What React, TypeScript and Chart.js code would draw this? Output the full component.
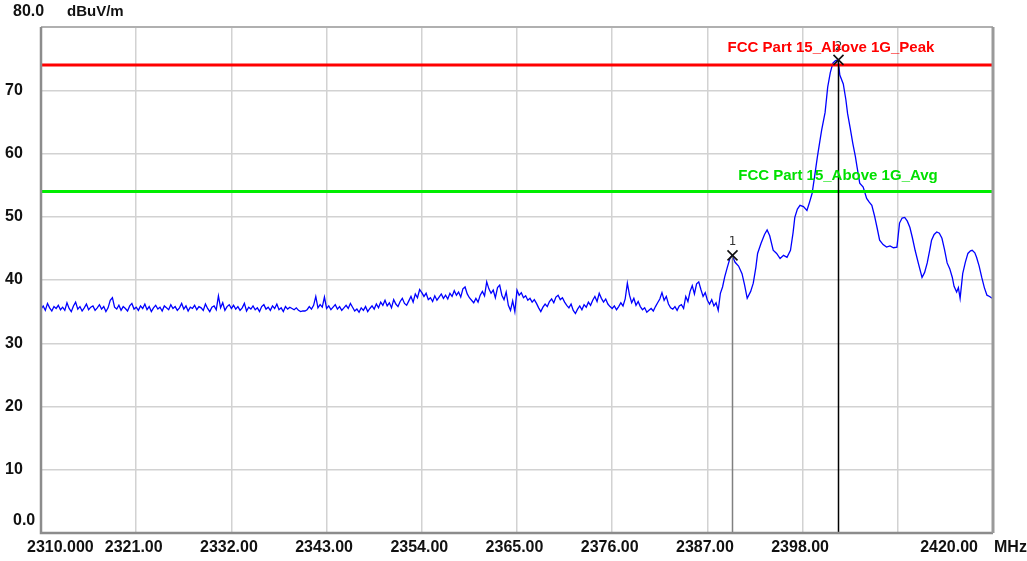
import React, { useEffect, useRef } from "react";
import { Chart, registerables } from "chart.js";
Chart.register(...registerables);

// Sweep grid for the noisy part of the trace
const sweepStart = 2310;
const sweepStep = 0.25;
const noiseLevels = [
  // 2310.00 - 2320.75
  35.4, 35.9, 35.2, 36.3, 35.6, 35.1, 35.8, 35.5, 36.0, 35.3,
  35.7, 35.2, 36.4, 35.5, 35.0, 35.9, 36.5, 35.4, 35.8, 35.1,
  35.6, 36.2, 35.3, 35.7, 35.9, 35.2, 35.6, 36.1, 35.4, 35.8,
  35.0, 35.6, 36.8, 37.2, 35.7, 35.4, 36.0, 35.2, 35.8, 35.5,
  35.1, 35.9, 36.3, 35.4,
  // 2321.00 - 2331.75
  35.7, 35.2, 35.9, 35.5, 36.2, 35.3, 35.8, 35.0, 35.6, 36.0,
  35.4, 35.7, 35.1, 35.9, 35.6, 35.3, 36.1, 35.5, 35.8, 35.2,
  35.6, 36.3, 35.4, 35.9, 35.1, 35.7, 35.5, 36.0, 35.3, 35.8,
  35.6, 35.2, 36.2, 35.5, 35.0, 35.7, 35.9, 35.3, 37.5, 35.6,
  36.4, 35.2, 35.8, 36.1,
  // 2332.00 - 2342.75
  35.5, 36.0, 35.4, 35.8, 35.2, 35.6, 36.3, 35.1, 35.7, 35.4,
  35.9, 35.3, 35.6, 35.0, 35.8, 36.1, 35.4, 35.7, 35.2, 35.9,
  35.5, 36.2, 35.3, 35.6, 35.0, 35.8, 35.4, 35.7, 35.5, 35.3,
  35.6, 35.2, 35.0, 35.1, 35.1, 35.3, 35.8, 35.4, 36.0, 37.4,
  35.6, 36.1, 35.7, 37.3,
  // 2343.00 - 2353.75
  35.5, 35.9, 35.3, 35.7, 36.1, 35.4, 35.8, 35.2, 35.6, 36.0,
  35.5, 36.3, 35.7, 35.1, 35.4, 34.9, 35.6, 35.2, 35.8, 35.0,
  35.5, 35.9, 35.4, 36.2, 35.6, 36.5, 36.0, 36.8, 35.9, 36.4,
  35.6, 36.9, 36.2, 35.8, 36.6, 37.1, 36.3, 36.0, 36.7, 37.4,
  36.5, 37.8, 37.2, 38.5,
  // 2354.00 - 2364.75
  38.0, 37.4, 37.9, 36.9, 37.2, 36.6, 37.5, 36.8, 37.3, 37.8,
  37.1, 37.6, 37.0, 37.9, 37.4, 38.3, 37.6, 38.1, 37.3, 38.6,
  38.9, 37.8, 37.2, 36.8, 36.4, 37.1, 36.5, 37.6, 38.2, 37.5,
  39.7, 38.6, 37.9, 38.4, 37.2, 38.8, 39.2, 37.6, 36.9, 38.1,
  36.0, 35.2, 36.7, 35.0,
  // 2365.00 - 2375.75
  38.4, 37.6, 38.0, 37.2, 37.5, 36.8, 37.1, 36.5, 36.9, 36.3,
  35.6, 35.0, 35.7, 36.2, 35.8, 36.6, 37.0, 36.4, 37.3, 37.6,
  36.9, 37.2, 36.5, 36.0, 35.6, 36.2, 35.2, 34.7, 35.4, 35.9,
  35.3, 36.1, 35.7, 36.5, 36.0, 36.8, 37.4, 36.6, 37.9, 37.1,
  36.5, 37.0, 36.2, 35.8,
  // 2376.00 - 2382.75
  35.5, 35.9, 35.3, 35.8, 36.4, 35.9, 37.0, 39.5, 37.6, 36.4,
  37.1, 36.0, 36.6, 35.8, 35.3, 35.6, 34.9, 35.2, 35.5, 35.1,
  35.8, 36.4, 37.0, 38.0, 36.8, 37.4, 36.2, 35.6,
  // 2383.00 - 2388.50
  35.4, 35.8, 35.2, 35.9, 36.1, 35.5, 37.4, 36.6, 38.2, 39.1,
  37.8, 39.4, 39.7, 38.5, 37.4, 38.0, 36.8, 36.2, 36.9, 35.9,
  36.4, 35.2, 37.9,
];

// Signal region (read point by point)
const signalFreqs = [
  2388.75, 2389.0, 2389.3, 2389.6, 2389.85, 2390.2, 2390.6, 2391.0, 2391.3, 2391.6,
  2392.0, 2392.3, 2392.6, 2392.8, 2393.2, 2393.6, 2393.9, 2394.2, 2394.6, 2395.0,
  2395.4, 2395.8, 2396.2, 2396.6, 2396.9, 2397.1, 2397.4, 2397.7, 2398.1, 2398.5,
  2398.8, 2399.1, 2399.4, 2399.7, 2400.0, 2400.2, 2400.6, 2400.9, 2401.2, 2401.5,
  2401.8, 2402.1, 2402.3, 2402.7, 2403.0, 2403.2, 2403.5, 2403.8, 2404.1, 2404.3,
  2404.6, 2405.0, 2405.4, 2405.7, 2406.0, 2406.3, 2406.6, 2406.9, 2407.3, 2407.7,
  2408.1, 2408.5, 2408.9, 2409.2, 2409.5, 2409.8, 2410.1, 2410.4, 2410.7, 2411.0,
  2411.4, 2411.8, 2412.1, 2412.4, 2412.7, 2412.9, 2413.2, 2413.5, 2413.8, 2414.1,
  2414.4, 2414.7, 2415.0, 2415.3, 2415.5, 2415.8, 2416.0, 2416.2, 2416.5, 2416.8,
  2417.1, 2417.4, 2417.6, 2417.9, 2418.1, 2418.4, 2418.7, 2419.0, 2419.3, 2419.6,
  2419.9,
];
const signalLevels = [
  38.9, 40.5, 42.0, 43.4, 43.9, 42.8, 42.2, 41.0, 39.2, 37.1,
  38.2, 39.5, 42.0, 44.2, 45.8, 47.2, 47.9, 47.0, 44.7, 44.2,
  43.4, 43.9, 43.6, 44.7, 47.5, 49.9, 51.2, 51.8, 51.6, 51.0,
  52.3, 53.7, 56.5, 59.4, 62.0, 63.7, 66.5, 70.5, 72.8, 74.3,
  74.7, 74.8, 72.4, 71.0, 68.5, 66.3, 64.0, 61.6, 59.5, 57.8,
  55.3, 54.7, 52.9, 52.3, 51.8, 50.2, 48.3, 46.3, 45.6, 45.2,
  45.4, 45.1, 45.2, 49.0, 49.8, 49.9, 49.3, 48.3, 46.6, 44.7,
  42.5, 40.4, 41.2, 42.7, 44.8, 46.3, 47.2, 47.6, 47.4, 46.6,
  44.8, 42.7, 41.8, 40.4, 39.0, 38.1, 38.8, 37.1, 41.0, 42.8,
  44.2, 44.6, 44.7, 44.3, 43.6, 42.2, 40.4, 38.8, 37.6, 37.4,
  37.1,
];

const limitFreqs = [2310, 2420];
const peakLimit = [74, 74];
const avgLimit = [54, 54];
const peakLimitName = "FCC Part 15_Above 1G_Peak";
const avgLimitName = "FCC Part 15_Above 1G_Avg";

const xTickValues = [2310, 2321, 2332, 2343, 2354, 2365, 2376, 2387, 2398, 2409, 2420];
const xTickLabels = ["2310.000", "2321.00", "2332.00", "2343.00", "2354.00", "2365.00", "2376.00", "2387.00", "2398.00", "", "2420.00"];
const yTickValues = [0, 10, 20, 30, 40, 50, 60, 70, 80];
const yTickLabels = ["0.0", "10", "20", "30", "40", "50", "60", "70", "80.0"];
const xUnit = "MHz";
const yUnit = "dBuV/m";

const markerFreqs = [2389.85, 2402.1];
const markerLevels = [43.9, 74.8];
const markerNames = ["1", "2"];
const markerLineColors = ["#808080", "#000000"];

const BOLD = "bold 16px 'Liberation Sans', Arial, sans-serif";

const overlayPlugin = {
  id: "overlay",
  afterDatasetsDraw(chart: any) {
    const { ctx, chartArea, scales } = chart;
    const xs = scales.x;
    const ys = scales.y;
    ctx.save();
    // marker lines and glyphs
    markerFreqs.forEach((f, i) => {
      const px = Math.round(xs.getPixelForValue(f)) + 0.5;
      const py = ys.getPixelForValue(markerLevels[i]);
      ctx.strokeStyle = markerLineColors[i];
      ctx.lineWidth = 1.5;
      ctx.beginPath();
      ctx.moveTo(px, py);
      ctx.lineTo(px, chartArea.bottom);
      ctx.stroke();
      ctx.strokeStyle = "#111";
      ctx.lineWidth = 1.6;
      ctx.beginPath();
      ctx.moveTo(px - 5, py - 5);
      ctx.lineTo(px + 5, py + 5);
      ctx.moveTo(px + 5, py - 5);
      ctx.lineTo(px - 5, py + 5);
      ctx.stroke();
      ctx.fillStyle = "#333";
      ctx.font = "12px 'DejaVu Sans', sans-serif";
      ctx.textAlign = "center";
      ctx.textBaseline = "middle";
      ctx.fillText(markerNames[i], px, py - 13);
    });
    ctx.restore();
  },
  afterDraw(chart: any) {
    const { ctx, chartArea, scales } = chart;
    const xs = scales.x;
    const ys = scales.y;
    ctx.save();
    // frame
    ctx.strokeStyle = "#b0b0b0";
    ctx.lineWidth = 2;
    ctx.beginPath();
    ctx.moveTo(chartArea.left, chartArea.top);
    ctx.lineTo(chartArea.right, chartArea.top);
    ctx.stroke();
    ctx.strokeStyle = "#8c8c8c";
    ctx.lineWidth = 2.5;
    ctx.beginPath();
    ctx.moveTo(chartArea.left, chartArea.top);
    ctx.lineTo(chartArea.left, chartArea.bottom);
    ctx.lineTo(chartArea.right, chartArea.bottom);
    ctx.stroke();
    ctx.strokeStyle = "#9a9a9a";
    ctx.lineWidth = 3;
    ctx.beginPath();
    ctx.moveTo(chartArea.right, chartArea.top);
    ctx.lineTo(chartArea.right, chartArea.bottom);
    ctx.stroke();

    // limit labels
    ctx.font = "bold 15px 'Liberation Sans', Arial, sans-serif";
    ctx.textAlign = "center";
    ctx.textBaseline = "middle";
    ctx.fillStyle = "#ff0000";
    ctx.fillText(peakLimitName, 831, ys.getPixelForValue(peakLimit[0]) - 17);
    ctx.fillStyle = "#00e000";
    ctx.fillText(avgLimitName, 838, ys.getPixelForValue(avgLimit[0]) - 16);

    // y tick labels
    ctx.fillStyle = "#111";
    ctx.font = BOLD;
    yTickValues.forEach((v, i) => {
      const py = ys.getPixelForValue(v);
      if (v === 0) {
        ctx.textAlign = "left";
        ctx.fillText(yTickLabels[i], 13, py - 12);
      } else if (v === 80) {
        ctx.textAlign = "left";
        ctx.fillText(yTickLabels[i], 13, py - 15);
      } else {
        ctx.textAlign = "center";
        ctx.fillText(yTickLabels[i], 14, py);
      }
    });
    ctx.textAlign = "left";
    ctx.font = "bold 15px 'Liberation Sans', Arial, sans-serif";
    ctx.fillText(yUnit, 67, ys.getPixelForValue(80) - 15);

    // x tick labels
    ctx.font = BOLD;
    const ly = chartArea.bottom + 15;
    xTickValues.forEach((v, i) => {
      const lbl = xTickLabels[i];
      if (!lbl) return;
      const px = xs.getPixelForValue(v);
      if (i === 0) {
        ctx.textAlign = "left";
        ctx.fillText(lbl, px - 14, ly);
      } else if (i === xTickValues.length - 1) {
        ctx.textAlign = "right";
        ctx.fillText(lbl, px - 15, ly);
      } else {
        ctx.textAlign = "center";
        ctx.fillText(lbl, px - 2.5, ly);
      }
    });
    ctx.textAlign = "left";
    ctx.fillText(xUnit, chartArea.right + 1, ly);
    ctx.restore();
  },
};

export default function App() {
  const ref = useRef<HTMLCanvasElement | null>(null);
  useEffect(() => {
    if (!ref.current) return;
    const trace = noiseLevels
      .map((v, i) => ({ x: sweepStart + i * sweepStep, y: v }))
      .concat(signalFreqs.map((f, i) => ({ x: f, y: signalLevels[i] })));
    const chart = new Chart(ref.current, {
      type: "line",
      data: {
        datasets: [
          {
            data: limitFreqs.map((f, i) => ({ x: f, y: peakLimit[i] })),
            borderColor: "#ff0000",
            borderWidth: 3,
            pointRadius: 0,
          },
          {
            data: limitFreqs.map((f, i) => ({ x: f, y: avgLimit[i] })),
            borderColor: "#00ee00",
            borderWidth: 3,
            pointRadius: 0,
          },
          {
            data: trace,
            borderColor: "#0000ff",
            borderWidth: 1.3,
            pointRadius: 0,
            tension: 0,
          },
        ],
      },
      options: {
        animation: false,
        responsive: false,
        maintainAspectRatio: false,
        events: [],
        layout: { padding: { left: 0, right: 34, top: 27, bottom: 0 } },
        plugins: { legend: { display: false }, tooltip: { enabled: false } },
        scales: {
          x: {
            type: "linear",
            min: 2310,
            max: 2420,
            ticks: { display: false },
            grid: { color: "#d2d2d2", lineWidth: 1.5, drawTicks: false },
            border: { display: false },
            afterBuildTicks: (s: any) => {
              s.ticks = xTickValues.map((v) => ({ value: v }));
            },
            afterFit: (s: any) => {
              s.height = 28;
            },
          },
          y: {
            type: "linear",
            min: 0,
            max: 80,
            ticks: { display: false },
            grid: { color: "#d2d2d2", lineWidth: 1.5, drawTicks: false },
            border: { display: false },
            afterBuildTicks: (s: any) => {
              s.ticks = yTickValues.map((v) => ({ value: v }));
            },
            afterFit: (s: any) => {
              s.width = 41;
            },
          },
        },
      },
      plugins: [overlayPlugin],
    } as any);
    return () => chart.destroy();
  }, []);
  return (
    <div style={{ position: "fixed", left: 0, top: 0, width: 1027, height: 561, background: "#fff" }}>
      <canvas ref={ref} width={1027} height={561} style={{ width: 1027, height: 561, display: "block" }} />
    </div>
  );
}
